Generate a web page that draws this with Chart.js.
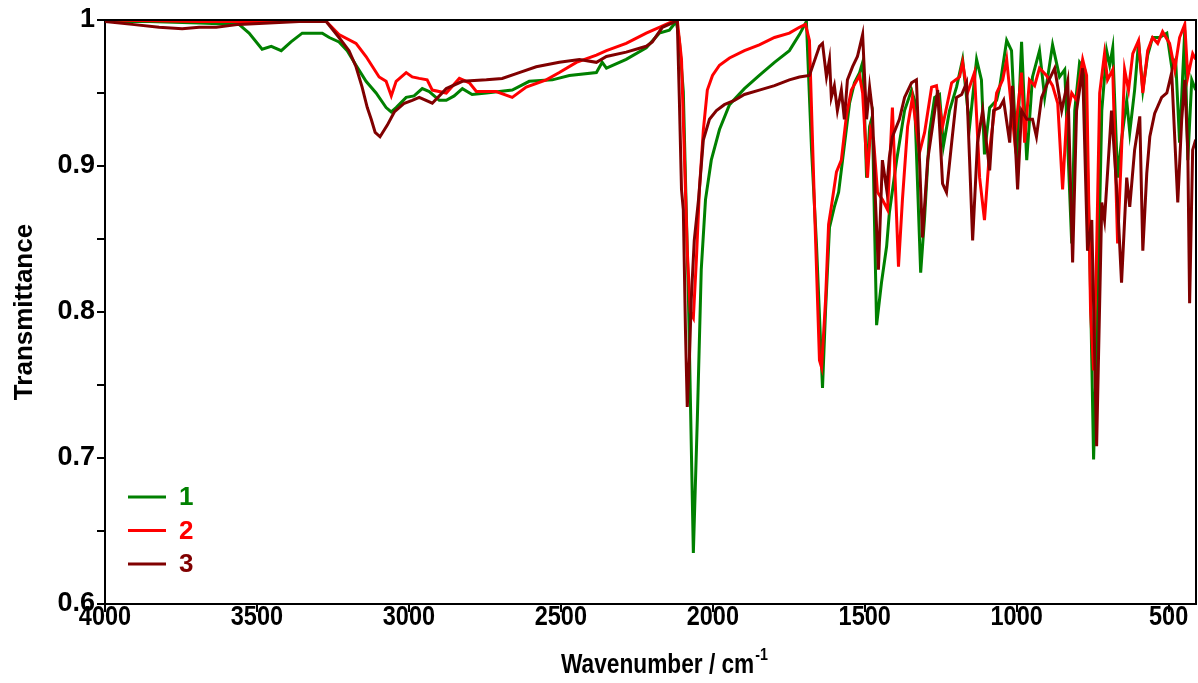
<!DOCTYPE html>
<html>
<head>
<meta charset="utf-8">
<script src="https://cdn.jsdelivr.net/npm/chart.js@4.4.1/dist/chart.umd.min.js"></script>
<style>
  html, body { margin: 0; padding: 0; background: #fff; }
  #wrap { width: 1198px; height: 683px; }
</style>
</head>
<body>
<div id="wrap"><canvas id="ir" width="1198" height="683"></canvas></div>
<script>
// spectra: wavenumber (cm-1) and transmittance
var wn1 = [4000,3855,3690,3559,3526,3483,3453,3420,3388,3351,3285,3262,3230,3203,3174,3141,3108,3075,3058,3042,3009,2983,2956,2933,2900,2877,2851,2824,2792,2745,2660,2604,2528,2472,2383,2364,2350,2285,2219,2176,2143,2120,2110,2097,2080,2064,2051,2038,2024,2005,1978,1945,1896,1847,1797,1748,1715,1692,1675,1659,1639,1629,1616,1600,1586,1573,1550,1534,1517,1507,1501,1494,1484,1475,1461,1445,1428,1419,1395,1369,1346,1336,1316,1303,1287,1270,1254,1241,1221,1198,1178,1155,1132,1116,1106,1089,1066,1056,1033,1017,1000,984,967,948,925,908,882,859,842,819,809,793,776,760,747,734,720,704,694,684,668,655,638,628,612,599,585,569,553,530,506,490,477,464,447,437,424,411];
var t1 = [0.999,0.999,0.998,0.997,0.991,0.980,0.982,0.979,0.985,0.991,0.991,0.988,0.985,0.979,0.969,0.958,0.950,0.940,0.937,0.940,0.947,0.948,0.953,0.951,0.945,0.945,0.948,0.953,0.949,0.950,0.952,0.958,0.959,0.962,0.964,0.971,0.967,0.973,0.981,0.991,0.993,0.999,0.986,0.951,0.808,0.635,0.726,0.829,0.877,0.904,0.925,0.942,0.953,0.962,0.971,0.979,0.990,0.999,0.911,0.847,0.748,0.801,0.858,0.872,0.882,0.904,0.943,0.957,0.964,0.971,0.938,0.892,0.927,0.934,0.791,0.820,0.845,0.868,0.904,0.938,0.952,0.945,0.827,0.865,0.923,0.947,0.949,0.914,0.938,0.954,0.973,0.927,0.973,0.959,0.908,0.940,0.945,0.954,0.986,0.979,0.904,0.985,0.904,0.961,0.979,0.947,0.983,0.961,0.966,0.847,0.938,0.971,0.966,0.847,0.699,0.801,0.938,0.979,0.969,0.981,0.892,0.918,0.945,0.923,0.952,0.985,0.952,0.976,0.988,0.988,0.991,0.968,0.973,0.916,0.993,0.904,0.959,0.952];

var wn2 = [4000,3690,3361,3272,3230,3174,3141,3098,3075,3058,3042,3009,2989,2966,2940,2923,2877,2834,2801,2778,2713,2660,2614,2548,2505,2449,2383,2350,2285,2219,2176,2143,2117,2103,2094,2084,2074,2064,2054,2044,2031,2018,2001,1978,1945,1896,1847,1797,1748,1715,1695,1682,1665,1649,1642,1629,1619,1610,1593,1577,1560,1544,1517,1507,1491,1481,1471,1458,1442,1425,1409,1389,1376,1359,1343,1320,1303,1280,1264,1244,1214,1188,1178,1162,1139,1122,1106,1089,1066,1046,1033,1007,984,974,958,941,925,902,882,865,849,836,819,803,783,770,757,747,737,727,711,701,684,668,655,645,632,618,599,585,569,553,536,520,497,480,464,447,437,421,411];
var t2 = [1.000,0.999,0.999,0.999,0.990,0.984,0.975,0.961,0.958,0.948,0.958,0.964,0.961,0.960,0.959,0.952,0.950,0.960,0.957,0.951,0.951,0.947,0.954,0.959,0.964,0.971,0.976,0.979,0.984,0.991,0.995,0.998,1.000,0.973,0.911,0.842,0.800,0.796,0.836,0.884,0.925,0.952,0.962,0.969,0.974,0.979,0.983,0.988,0.991,0.995,0.997,0.986,0.870,0.767,0.762,0.808,0.860,0.872,0.896,0.904,0.935,0.952,0.962,0.950,0.892,0.925,0.918,0.882,0.877,0.870,0.940,0.831,0.877,0.927,0.947,0.909,0.923,0.954,0.955,0.927,0.957,0.961,0.971,0.950,0.964,0.892,0.863,0.911,0.950,0.959,0.973,0.918,0.964,0.916,0.959,0.955,0.967,0.962,0.955,0.943,0.884,0.932,0.950,0.945,0.973,0.962,0.801,0.760,0.842,0.950,0.977,0.959,0.966,0.847,0.911,0.966,0.952,0.977,0.986,0.950,0.979,0.988,0.984,0.992,0.984,0.966,0.988,0.997,0.961,0.977,0.973];

var wn3 = [4000,3911,3822,3746,3690,3634,3559,3460,3361,3272,3230,3197,3174,3154,3137,3124,3111,3095,3071,3048,3015,2989,2966,2923,2877,2824,2745,2693,2637,2581,2505,2439,2383,2350,2285,2219,2199,2166,2133,2117,2110,2103,2097,2090,2084,2077,2071,2061,2047,2031,2011,1988,1962,1929,1896,1847,1797,1748,1715,1682,1649,1639,1626,1616,1610,1600,1590,1577,1567,1557,1540,1524,1507,1494,1484,1475,1465,1455,1442,1428,1419,1409,1386,1369,1346,1330,1310,1293,1277,1260,1244,1231,1214,1198,1181,1165,1155,1145,1129,1112,1089,1076,1056,1043,1023,1014,997,984,967,948,935,918,898,875,852,832,816,803,783,767,753,737,720,711,688,668,655,638,628,612,595,585,572,562,546,523,506,490,470,457,447,437,431,421,411];
var t3 = [0.999,0.997,0.995,0.994,0.995,0.995,0.997,0.998,0.999,0.999,0.988,0.979,0.968,0.954,0.940,0.932,0.923,0.920,0.928,0.937,0.943,0.945,0.947,0.943,0.953,0.958,0.959,0.960,0.964,0.968,0.971,0.973,0.971,0.975,0.978,0.982,0.985,0.995,0.998,1.000,0.945,0.884,0.870,0.788,0.735,0.767,0.808,0.849,0.877,0.918,0.932,0.938,0.942,0.945,0.949,0.952,0.955,0.959,0.961,0.962,0.982,0.984,0.961,0.973,0.947,0.955,0.938,0.952,0.932,0.959,0.968,0.975,0.990,0.932,0.954,0.938,0.877,0.829,0.904,0.884,0.906,0.920,0.932,0.947,0.957,0.959,0.851,0.904,0.927,0.952,0.888,0.882,0.916,0.947,0.949,0.957,0.904,0.849,0.916,0.938,0.897,0.938,0.940,0.945,0.916,0.955,0.884,0.938,0.932,0.932,0.920,0.947,0.957,0.967,0.938,0.958,0.834,0.938,0.967,0.842,0.863,0.708,0.875,0.863,0.938,0.875,0.820,0.892,0.872,0.911,0.934,0.842,0.895,0.920,0.936,0.947,0.950,0.964,0.875,0.932,0.959,0.911,0.806,0.911,0.918];

var seriesNames = ['1', '2', '3'];
var xTicks = [4000, 3500, 3000, 2500, 2000, 1500, 1000, 500];
var yTicks = [0.6, 0.65, 0.7, 0.75, 0.8, 0.85, 0.9, 0.95, 1];
var yTickLabels = ['0.6', '', '0.7', '', '0.8', '', '0.9', '', '1'];

var SANS = "'Liberation Sans', Arial, sans-serif";
var SQUEEZE = 0.84; // bottom axis text is set in a condensed face

function pts(xs, ys) {
  return xs.map(function (x, i) { return { x: x, y: ys[i] }; });
}

// frame, condensed x labels, axis titles and the little legend in the corner
var extras = {
  id: 'extras',
  afterDraw: function (chart) {
    var ctx = chart.ctx, a = chart.chartArea, xs = chart.scales.x;
    ctx.save();
    ctx.strokeStyle = '#000';
    ctx.lineWidth = 2;
    ctx.beginPath();
    ctx.moveTo(a.left, a.top);
    ctx.lineTo(a.right, a.top);
    ctx.lineTo(a.right, a.bottom);
    ctx.stroke();

    ctx.fillStyle = '#000';
    ctx.textAlign = 'center';
    ctx.textBaseline = 'middle';
    ctx.font = 'bold 28px ' + SANS;
    xTicks.forEach(function (v) {
      ctx.save();
      ctx.translate(xs.getPixelForValue(v), 617);
      ctx.scale(SQUEEZE, 1);
      ctx.fillText(String(v), 0, 0);
      ctx.restore();
    });

    // x title with superscript
    var main = 'Wavenumber / cm', sup = '-1';
    ctx.font = 'bold 27px ' + SANS;
    var w1 = ctx.measureText(main).width * SQUEEZE;
    ctx.font = 'bold 17px ' + SANS;
    var w2 = ctx.measureText(sup).width * SQUEEZE;
    var x0 = 664 - (w1 + w2) / 2;
    ctx.textBaseline = 'alphabetic';
    ctx.textAlign = 'left';
    ctx.save();
    ctx.translate(x0, 673);
    ctx.scale(SQUEEZE, 1);
    ctx.font = 'bold 27px ' + SANS;
    ctx.fillText(main, 0, 0);
    ctx.restore();
    ctx.save();
    ctx.translate(x0 + w1 + 1, 660);
    ctx.scale(SQUEEZE, 1);
    ctx.font = 'bold 17px ' + SANS;
    ctx.fillText(sup, 0, 0);
    ctx.restore();

    // y title
    ctx.save();
    ctx.translate(25, (a.top + a.bottom) / 2);
    ctx.rotate(-Math.PI / 2);
    ctx.font = 'bold 26px ' + SANS;
    ctx.textAlign = 'center';
    ctx.textBaseline = 'middle';
    ctx.fillText('Transmittance', 0, 0);
    ctx.restore();

    // legend
    var ds = chart.data.datasets;
    ctx.lineWidth = 3;
    ctx.font = 'bold 26px ' + SANS;
    ctx.textAlign = 'left';
    ctx.textBaseline = 'middle';
    for (var i = 0; i < ds.length; i++) {
      var y = 497 + i * 33.5;
      ctx.strokeStyle = ds[i].borderColor;
      ctx.beginPath();
      ctx.moveTo(128, y);
      ctx.lineTo(166, y);
      ctx.stroke();
      ctx.fillStyle = ds[i].borderColor;
      ctx.fillText(ds[i].label, 179, y + 1);
    }
    ctx.restore();
  }
};

new Chart(document.getElementById('ir'), {
  type: 'line',
  data: {
    datasets: [
      { label: seriesNames[0], data: pts(wn1, t1), borderColor: '#008000', order: 3 },
      { label: seriesNames[1], data: pts(wn2, t2), borderColor: '#ff0000', order: 2 },
      { label: seriesNames[2], data: pts(wn3, t3), borderColor: '#800000', order: 1 }
    ]
  },
  options: {
    responsive: false,
    animation: false,
    devicePixelRatio: 1,
    layout: { padding: { top: 20, right: 2, left: 0, bottom: 0 } },
    elements: {
      line: { borderWidth: 3, tension: 0, fill: false },
      point: { radius: 0, hoverRadius: 0 }
    },
    plugins: { legend: { display: false }, tooltip: { enabled: false } },
    scales: {
      x: {
        type: 'linear',
        reverse: true,
        min: 410,
        max: 4000,
        afterBuildTicks: function (s) { s.ticks = xTicks.map(function (v) { return { value: v }; }); },
        afterFit: function (s) { s.height = 79; },
        grid: { drawOnChartArea: false, color: '#000', lineWidth: 2, tickLength: 8 },
        border: { color: '#000', width: 2 },
        ticks: { display: false }
      },
      y: {
        min: 0.6,
        max: 1,
        afterBuildTicks: function (s) { s.ticks = yTicks.map(function (v) { return { value: v }; }); },
        afterFit: function (s) { s.width = 105; },
        grid: { drawOnChartArea: false, color: '#000', lineWidth: 2, tickLength: 8 },
        border: { color: '#000', width: 2 },
        ticks: {
          padding: 2,
          color: '#000',
          font: { family: SANS, size: 27, weight: 'bold' },
          callback: function (v, i) { return yTickLabels[i]; }
        }
      }
    }
  },
  plugins: [extras]
});
</script>
</body>
</html>
